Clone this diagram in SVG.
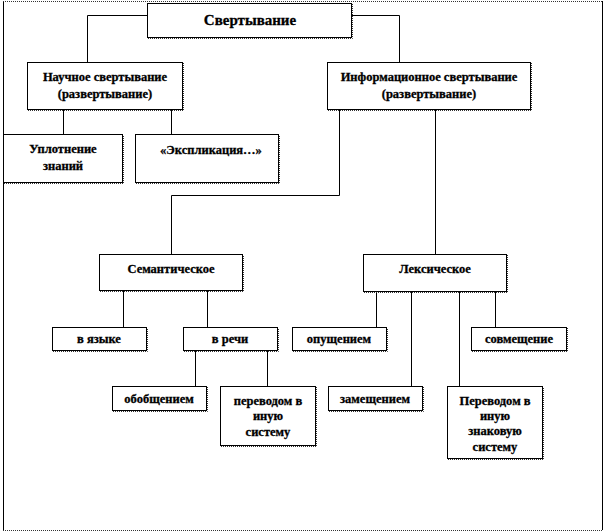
<svg xmlns="http://www.w3.org/2000/svg" width="604" height="532" viewBox="0 0 604 532" font-family="Liberation Serif, DejaVu Serif, serif">
<style>
.box{fill:#fff;stroke:#000;stroke-width:1}
.sh{fill:none;stroke:#333;stroke-width:1;stroke-dasharray:1 1}
.c{fill:none;stroke:#000;stroke-width:1}
text{font-family:'Liberation Serif','DejaVu Serif',serif;font-weight:bold;font-size:12.5px;text-anchor:middle;fill:#000;stroke:#000;stroke-width:0.3}
.big{font-size:15px}
</style>
<rect x="0" y="0" width="604" height="532" fill="#fff"/>
<g id="frame">
<line x1="3.5" y1="1" x2="3.5" y2="530" class="c"/>
<line x1="602.5" y1="1" x2="602.5" y2="530" class="c"/>
<line x1="3" y1="1.5" x2="603" y2="1.5" class="sh"/>
<line x1="3" y1="530.5" x2="603" y2="530.5" class="sh"/>
</g>
<g id="connectors">
<polyline class="c" points="147,15.5 87.5,15.5 87.5,62"/>
<polyline class="c" points="352,15.5 399.5,15.5 399.5,62"/>
<line class="c" x1="63.5" y1="110" x2="63.5" y2="134"/>
<line class="c" x1="171.5" y1="110" x2="171.5" y2="134"/>
<polyline class="c" points="339.5,110 339.5,195.5 171.5,195.5 171.5,254"/>
<line class="c" x1="435.5" y1="110" x2="435.5" y2="254"/>
<line class="c" x1="123.5" y1="291" x2="123.5" y2="327"/>
<line class="c" x1="207.5" y1="291" x2="207.5" y2="327"/>
<line class="c" x1="195.5" y1="351" x2="195.5" y2="386"/>
<line class="c" x1="267.5" y1="351" x2="267.5" y2="386"/>
<line class="c" x1="376.5" y1="292" x2="376.5" y2="327"/>
<line class="c" x1="411.5" y1="292" x2="411.5" y2="386"/>
<line class="c" x1="459.5" y1="292" x2="459.5" y2="386"/>
<line class="c" x1="495.5" y1="292" x2="495.5" y2="327"/>
</g>
<g id="n-svert">
<rect class="box" x="147.5" y="3.5" width="204" height="34"/>
<path class="sh" d="M148,38.5H352.5V4"/>
<text class="big" x="250" y="25">Свертывание</text>
</g>
<g id="n-nauch">
<rect class="box" x="27.5" y="62.5" width="155" height="47"/>
<path class="sh" d="M28,110.5H183.5V63"/>
<text x="105" y="81">Научное свертывание</text>
<text x="105" y="98">(развертывание)</text>
</g>
<g id="n-inform">
<rect class="box" x="327.5" y="62.5" width="203" height="47"/>
<path class="sh" d="M328,110.5H531.5V63"/>
<text x="429" y="81">Информационное свертывание</text>
<text x="429" y="98">(развертывание)</text>
</g>
<g id="n-upl">
<rect class="box" x="3.5" y="134.5" width="119" height="48"/>
<path class="sh" d="M4,183.5H123.5V135"/>
<text x="63" y="153">Уплотнение</text>
<text x="63" y="170">знаний</text>
</g>
<g id="n-ekspl">
<rect class="box" x="135.5" y="134.5" width="143" height="48"/>
<path class="sh" d="M136,183.5H279.5V135"/>
<text x="211" y="154">«Экспликация…»</text>
</g>
<g id="n-sem">
<rect class="box" x="99.5" y="254.5" width="143" height="36"/>
<path class="sh" d="M100,291.5H243.5V255"/>
<text x="171" y="273">Семантическое</text>
</g>
<g id="n-leks">
<rect class="box" x="363.5" y="254.5" width="143" height="37"/>
<path class="sh" d="M364,292.5H507.5V255"/>
<text x="435" y="273">Лексическое</text>
</g>
<g id="n-vyaz">
<rect class="box" x="52.5" y="327.5" width="94" height="23"/>
<path class="sh" d="M53,351.5H147.5V328"/>
<text x="99" y="343">в языке</text>
</g>
<g id="n-vrech">
<rect class="box" x="183.5" y="327.5" width="94" height="23"/>
<path class="sh" d="M184,351.5H278.5V328"/>
<text x="230" y="343">в речи</text>
</g>
<g id="n-opush">
<rect class="box" x="292.5" y="327.5" width="94" height="23"/>
<path class="sh" d="M293,351.5H387.5V328"/>
<text x="339" y="343">опущением</text>
</g>
<g id="n-sovm">
<rect class="box" x="471.5" y="327.5" width="95" height="23"/>
<path class="sh" d="M472,351.5H567.5V328"/>
<text x="519" y="343">совмещение</text>
</g>
<g id="n-obob">
<rect class="box" x="112.5" y="386.5" width="94" height="24"/>
<path class="sh" d="M113,411.5H207.5V387"/>
<text x="159" y="403">обобщением</text>
</g>
<g id="n-perev1">
<rect class="box" x="220.5" y="386.5" width="95" height="59"/>
<path class="sh" d="M221,446.5H316.5V387"/>
<text x="268" y="405">переводом в</text>
<text x="268" y="420">иную</text>
<text x="268" y="436">систему</text>
</g>
<g id="n-zamesh">
<rect class="box" x="328.5" y="386.5" width="94" height="24"/>
<path class="sh" d="M329,411.5H423.5V387"/>
<text x="375" y="403">замещением</text>
</g>
<g id="n-perev2">
<rect class="box" x="447.5" y="386.5" width="95" height="72"/>
<path class="sh" d="M448,459.5H543.5V387"/>
<text x="495" y="405">Переводом в</text>
<text x="495" y="420">иную</text>
<text x="495" y="435">знаковую</text>
<text x="495" y="451">систему</text>
</g>
</svg>
